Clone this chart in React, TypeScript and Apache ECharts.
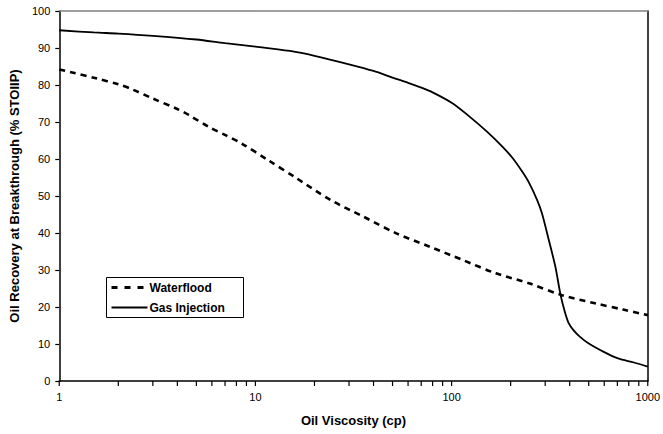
import React, { useEffect, useRef } from "react";
import * as echarts from "echarts";

// Waterflood recovery vs oil viscosity
const waterViscosity = [1, 1.18, 1.54, 2, 2.36, 2.98, 4, 4.57, 5.77, 7, 8.5, 11.6, 16, 24.2, 35.6, 52.3, 77.4, 114, 168, 248, 365, 538, 750, 1000];
const waterRecovery = [84.2, 83.3, 81.8, 80.2, 78.8, 76.4, 73.5, 71.9, 68.7, 66.5, 64.2, 59.7, 55, 48.9, 44.4, 39.9, 36.3, 32.7, 29.1, 26.4, 23.2, 21, 19.3, 17.8];

// Gas injection recovery vs oil viscosity
const gasViscosity = [1, 1.5, 2, 3, 5, 7, 10, 15, 20, 30, 40, 50, 60, 70, 80, 100, 120, 150, 182, 205, 229, 248, 273, 289, 313, 338, 358, 375, 394, 420, 450, 498, 600, 705, 850, 1000];
const gasRecovery = [94.8, 94.2, 93.9, 93.3, 92.3, 91.3, 90.4, 89.2, 87.9, 85.6, 83.8, 82, 80.6, 79.3, 78, 75.2, 72, 67.6, 63.3, 60.2, 56.6, 53.6, 48.9, 45.3, 38.1, 30.9, 23.7, 19.3, 15.8, 13.6, 12, 10.2, 7.8, 6.1, 5, 3.9];

const xTickLabels = [1, 10, 100, 1000];
const xTickValues = [
  1, 2, 3, 4, 5, 6, 7, 8, 9,
  10, 20, 30, 40, 50, 60, 70, 80, 90,
  100, 200, 300, 400, 500, 600, 700, 800, 900, 1000,
];

const FONT = "'Liberation Sans', Arial, sans-serif";
const TICK_LEN = 4;

export default function App() {
  const ref = useRef<HTMLDivElement>(null);

  useEffect(() => {
    if (!ref.current) return;
    const chart = echarts.init(ref.current, undefined, { renderer: "svg" });
    const toPairs = (xs: number[], ys: number[]) => xs.map((x, i) => [x, ys[i]]);

    chart.setOption({
      animation: false,
      backgroundColor: "#ffffff",
      textStyle: { fontFamily: FONT },
      grid: { left: 56, right: 13, top: 11, bottom: 53 },
      xAxis: [
        {
          type: "log",
          logBase: 10,
          min: 1,
          max: 1000,
          name: "Oil Viscosity (cp)",
          nameLocation: "middle",
          nameGap: 33,
          nameTextStyle: { fontFamily: FONT, fontSize: 13, fontWeight: "bold", color: "#000" },
          axisLine: { onZero: false, lineStyle: { color: "#000", width: 1.5 } },
          axisTick: { show: false },
          axisLabel: {
            customValues: xTickLabels,
            formatter: (v: number) => String(Math.round(v)),
            fontFamily: FONT,
            fontSize: 11,
            color: "#000",
            margin: 10,
          },
          splitLine: { show: false },
        },
        {
          type: "log",
          logBase: 10,
          min: 1,
          max: 1000,
          position: "top",
          axisLine: { show: true, onZero: false, lineStyle: { color: "#808080", width: 1.5 } },
          axisTick: { show: false },
          axisLabel: { show: false },
          splitLine: { show: false },
        },
      ],
      yAxis: [
        {
          type: "value",
          min: 0,
          max: 100,
          interval: 10,
          name: "Oil Recovery at Breakthrough (% STOIIP)",
          nameLocation: "middle",
          nameGap: 29,
          nameTextStyle: { fontFamily: FONT, fontSize: 13, fontWeight: "bold", color: "#000" },
          axisLine: { show: true, onZero: false, lineStyle: { color: "#000", width: 1.5 } },
          axisTick: { show: true, inside: false, length: 4, lineStyle: { color: "#000000", width: 1.2 } },
          axisLabel: { fontFamily: FONT, fontSize: 11, color: "#000", margin: 9 },
          splitLine: { show: false },
        },
        {
          type: "value",
          min: 0,
          max: 100,
          position: "right",
          axisLine: { show: true, onZero: false, lineStyle: { color: "#000", width: 1.5 } },
          axisTick: { show: false },
          axisLabel: { show: false },
          splitLine: { show: false },
        },
      ],
      series: [
        {
          name: "Waterflood",
          type: "line",
          data: toPairs(waterViscosity, waterRecovery),
          showSymbol: false,
          smooth: 0.3,
          lineStyle: { color: "#000", width: 2.6, type: [6, 5], cap: "butt" },
        },
        {
          name: "Gas Injection",
          type: "line",
          data: toPairs(gasViscosity, gasRecovery),
          showSymbol: false,
          smooth: 0.3,
          lineStyle: { color: "#000", width: 1.8 },
        },
        {
          // tick marks below the log axis (decades plus 2..9 subdivisions)
          name: "xTicks",
          type: "custom",
          silent: true,
          clip: false,
          z: 10,
          encode: { x: 0, y: 1 },
          data: xTickValues.map((v) => [v, 0]),
          renderItem: (_params: any, api: any) => {
            const p = api.coord([api.value(0), 0]);
            return {
              type: "line",
              shape: { x1: p[0], y1: p[1], x2: p[0], y2: p[1] + TICK_LEN + 1 },
              style: { stroke: "#000000", lineWidth: 1.2, fill: null },
            };
          },
        },
      ],
      graphic: [
        {
          type: "group",
          left: 106,
          top: 277,
          children: [
            {
              type: "rect",
              shape: { x: 0, y: 0, width: 137, height: 40 },
              style: { fill: "#fff", stroke: "#000", lineWidth: 1 },
            },
            {
              type: "line",
              shape: { x1: 5, y1: 10, x2: 41, y2: 10 },
              style: { stroke: "#000", lineWidth: 3, lineDash: [6, 7] },
            },
            {
              type: "text",
              x: 43,
              y: 10,
              style: {
                text: "Waterflood",
                fontFamily: FONT,
                fontSize: 12,
                fontWeight: "bold",
                fill: "#000",
                verticalAlign: "middle",
              },
            },
            {
              type: "line",
              shape: { x1: 5, y1: 30, x2: 41, y2: 30 },
              style: { stroke: "#000", lineWidth: 1.8 },
            },
            {
              type: "text",
              x: 43,
              y: 30,
              style: {
                text: "Gas Injection",
                fontFamily: FONT,
                fontSize: 12,
                fontWeight: "bold",
                fill: "#000",
                verticalAlign: "middle",
              },
            },
          ],
        },
      ],
    });

    return () => chart.dispose();
  }, []);

  return <div ref={ref} style={{ width: 663, height: 434, position: "absolute", left: 0, top: 0 }} />;
}
